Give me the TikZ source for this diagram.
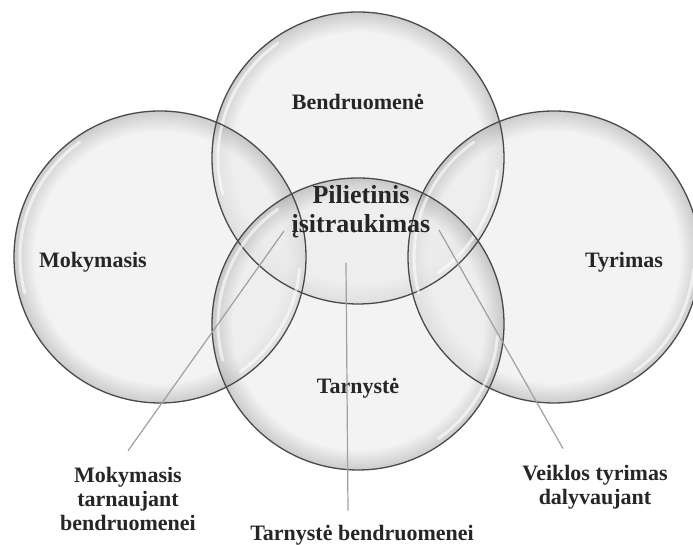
\documentclass[tikz,border=0pt]{standalone}
\usepackage{fontspec}
\setmainfont{Liberation Serif}
\usepackage{xcolor}
\usetikzlibrary{positioning, calc}

\definecolor{bubin}{HTML}{EBEBEB}
\definecolor{bubout}{HTML}{AAAAAA}
\definecolor{rimcol}{HTML}{4A4A4A}
\definecolor{txtcol}{HTML}{262626}
\definecolor{leadcol}{HTML}{A0A0A0}
\pgfdeclareradialshading{bubble}{\pgfpoint{0bp}{0bp}}{color(0bp)=(bubin); color(21.5bp)=(bubin); color(25bp)=(bubout); color(50bp)=(bubout)}

\begin{document}
\begin{tikzpicture}[x=0.5pt,y=0.5pt,
    lbl/.style={font=\bfseries\fontsize{11}{12}\selectfont, text=txtcol, align=center, inner sep=1pt},
    leader/.style={draw=leadcol, line width=0.6pt}]
        % Frame
        \fill[white] (0,0) rectangle (693,545);
        \useasboundingbox (0,0) rectangle (693,545);

        % Circle centres
        \coordinate (cTop) at (358,387);
        \coordinate (cLeft) at (160,288);
        \coordinate (cRight) at (554,288);
        \coordinate (cBottom) at (358,221);

        % Circles
        \foreach \c in {cTop,cLeft,cRight,cBottom} {
            \shade[shading=bubble, fill opacity=0.6] (\c) circle[radius=146];
        }
        \foreach \c in {cTop,cLeft,cRight,cBottom} {
            \draw[rimcol, line width=0.65pt] (\c) circle[radius=146];
            \draw[white, line width=1.5pt, opacity=0.6, line cap=round] ($(\c)+(125:140)$) arc[start angle=125, end angle=195, radius=140];
            \draw[white, line width=1.5pt, opacity=0.6, line cap=round] ($(\c)+(-55:140)$) arc[start angle=-55, end angle=-5, radius=140];
        }

        % Circle labels
        \node[lbl] (bendr) at (358,443) {Bendruomenė};
        \node[lbl] (mokym) at (93,283) {Mokymasis};
        \node[lbl] (tyrim) at (624,283) {Tyrimas};
        \node[lbl] (tarn) at (358,157) {Tarnystė};
        \node[lbl, font=\bfseries\fontsize{13}{14.5}\selectfont] (pilie) at (361,333) {Pilietinis\\įsitraukimas};

        % Bottom labels
        \node[lbl] (mokTarn) at (128,46) {Mokymasis\\tarnaujant\\bendruomenei};
        \node[lbl] (tarnBendr) at (362,10) {Tarnystė bendruomenei};
        \node[lbl] (veikl) at (595,58) {Veiklos tyrimas\\dalyvaujant};

        % Leaders
        \coordinate (pL) at (284,314);
        \coordinate (pM) at (346,282);
        \coordinate (pR) at (439,315);
        \draw[leader] (pL) -- ([yshift=7pt]mokTarn.north);
        \draw[leader] (pM) -- ([xshift=-7pt,yshift=6pt]tarnBendr.north);
        \draw[leader] (pR) -- ([xshift=-16pt,yshift=7pt]veikl.north);
    \end{tikzpicture}
\end{document}
